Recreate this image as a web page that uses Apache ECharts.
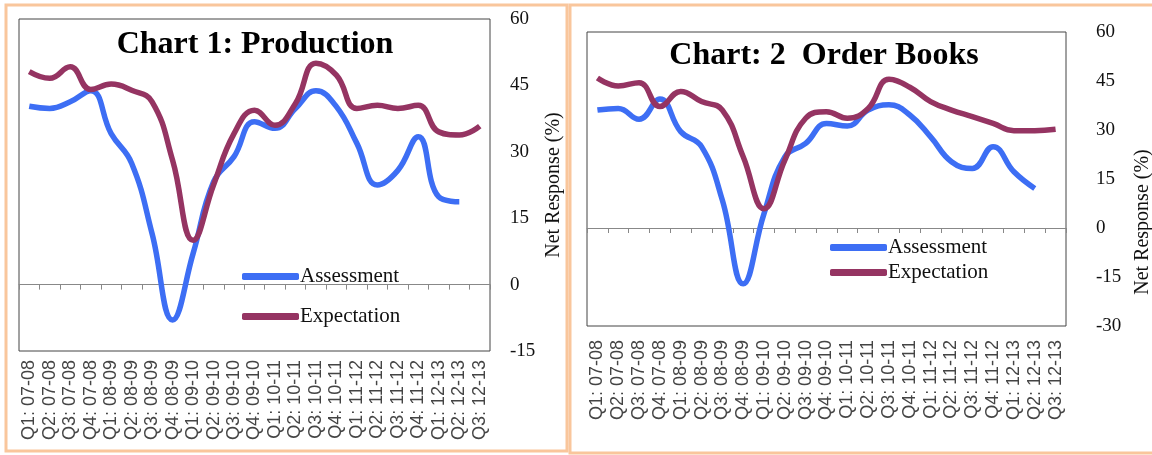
<!DOCTYPE html>
<html><head><meta charset="utf-8">
<script src="https://cdn.jsdelivr.net/npm/echarts@6/dist/echarts.min.js"></script>
<style>html,body{margin:0;padding:0;background:#fff;} #c{width:1152px;height:455px;}</style>
</head><body><div id="c"></div>
<script>
const categories = ['Q1: 07-08','Q2: 07-08','Q3: 07-08','Q4: 07-08','Q1: 08-09','Q2: 08-09','Q3: 08-09','Q4: 08-09',
  'Q1: 09-10','Q2: 09-10','Q3: 09-10','Q4: 09-10','Q1: 10-11','Q2: 10-11','Q3: 10-11','Q4: 10-11',
  'Q1: 11-12','Q2: 11-12','Q3: 11-12','Q4: 11-12','Q1: 12-13','Q2: 12-13','Q3: 12-13'];
const prodAssessment = [40.3,39.8,41.3,43.8,34.1,27.4,11.5,-8,7,23.2,28.9,36.8,35.3,39.8,43.8,40.2,31.9,22.5,25.8,33.4,19.8,18.7,null];
const prodExpectation = [48.1,46.6,49.2,44.1,45.3,43.9,41.3,28.1,10.0,22.5,34.1,39.4,36.0,40.9,50.0,47.3,39.8,40.5,39.8,40.5,34.5,33.8,35.8];
const orderAssessment = [36.1,36.6,33.3,39.5,29.5,24.9,8.5,-17.1,4.4,21.8,25.9,32.0,31.2,36.1,37.7,34.6,27.9,20.3,18.2,24.9,17.2,12.1,null];
const orderExpectation = [45.9,43.5,44.5,37.2,41.8,38.7,36.1,21.8,5.9,20.8,33.6,35.6,33.6,36.6,45.5,43.1,38.7,36.1,34.1,32.0,29.8,29.8,30.2];
const prodTicks = {min:-15, max:60, interval:15};
const orderTicks = {min:-30, max:60, interval:15};
const titles = ['Chart 1: Production', 'Chart: 2  Order Books'];
const yName = 'Net Response (%)';
const seriesNames = ['Assessment','Expectation'];

const BLUE = '#3D6EF4', MAROON = '#953462', FRAME = '#F9C69C';
const serif = 'Liberation Serif';
const chart = echarts.init(document.getElementById('c'));

function zeroAxis(gi){
  return {type:'category', gridIndex:gi, data:categories, position:'bottom', boundaryGap:true,
    axisLine:{onZero:true, lineStyle:{color:'#888', width:1}},
    axisTick:{show:true, interval:0, length:5, lineStyle:{color:'#888'}},
    axisLabel:{show:false}, splitLine:{show:false}};
}
function labelAxis(gi, margin){
  return {type:'category', gridIndex:gi, data:categories, position:'bottom', boundaryGap:true,
    axisLine:{show:false, onZero:false}, axisTick:{show:false}, splitLine:{show:false},
    axisLabel:{show:true, interval:0, rotate:90, margin:margin, fontFamily:'Liberation Sans', fontSize:18, color:'#444'}};
}
function yAx(gi, t, margin, withName){
  const a = {type:'value', gridIndex:gi, position:'right', min:t.min, max:t.max, interval:t.interval,
    axisLine:{show:false}, axisTick:{show:false}, splitLine:{show:false},
    axisLabel:{margin:margin, fontFamily:serif, fontSize:19, color:'#111'}};
  if (withName){
    Object.assign(a, {name:yName, nameLocation:'middle', nameRotate:90, nameGap:54,
      nameTextStyle:{fontFamily:serif, fontSize:20, color:'#111'}});
  }
  return a;
}
function line(name, data, xi, yi, color){
  return {type:'line', name:name, data:data, xAxisIndex:xi, yAxisIndex:yi, smooth:0.45,
    symbol:'none', lineStyle:{color:color, width:5.5}, itemStyle:{color:color}, connectNulls:false};
}

chart.setOption({
  animation:false,
  title:[
    {text:titles[0], left:250, top:24, textAlign:'center', textStyle:{fontFamily:serif, fontSize:32, fontWeight:'bold', color:'#000'}},
    {text:titles[1], left:819, top:35, textAlign:'center', textStyle:{fontFamily:serif, fontSize:32, fontWeight:'bold', color:'#000'}}
  ],
  grid:[
    {left:19, top:19, width:471, height:332, show:true, borderColor:'#444', borderWidth:1, backgroundColor:'transparent'},
    {left:587, top:32, width:479, height:294, show:true, borderColor:'#444', borderWidth:1, backgroundColor:'transparent'}
  ],
  xAxis:[zeroAxis(0), labelAxis(0, 9), zeroAxis(1), labelAxis(1, 14)],
  yAxis:[yAx(0, prodTicks, 20, true), yAx(1, orderTicks, 30, false)],
  legend:[
    {orient:'vertical', left:242, top:266, padding:0, itemGap:19, itemWidth:57, itemHeight:7, icon:'roundRect',
     data:seriesNames, textStyle:{fontFamily:serif, fontSize:21, color:'#111', padding:[0,0,0,-4]}},
    {orient:'vertical', left:830, top:237, padding:0, itemGap:4, itemWidth:57, itemHeight:7, icon:'roundRect',
     data:seriesNames, textStyle:{fontFamily:serif, fontSize:21, color:'#111', padding:[0,0,0,-4]}}
  ],
  graphic:[
    {type:'rect', shape:{x:6, y:5, width:561, height:446}, style:{fill:null, stroke:FRAME, lineWidth:3}, silent:true},
    {type:'rect', shape:{x:570, y:5, width:600, height:448}, style:{fill:null, stroke:FRAME, lineWidth:3}, silent:true},
    {type:'text', x:1143, y:222, rotation:Math.PI/2, style:{text:yName, fontFamily:serif, fontSize:20, fill:'#111', align:'center', verticalAlign:'middle'}}
  ],
  series:[
    line(seriesNames[0], prodAssessment, 0, 0, BLUE),
    line(seriesNames[1], prodExpectation, 0, 0, MAROON),
    line(seriesNames[0], orderAssessment, 2, 1, BLUE),
    line(seriesNames[1], orderExpectation, 2, 1, MAROON)
  ]
});
</script></body></html>
